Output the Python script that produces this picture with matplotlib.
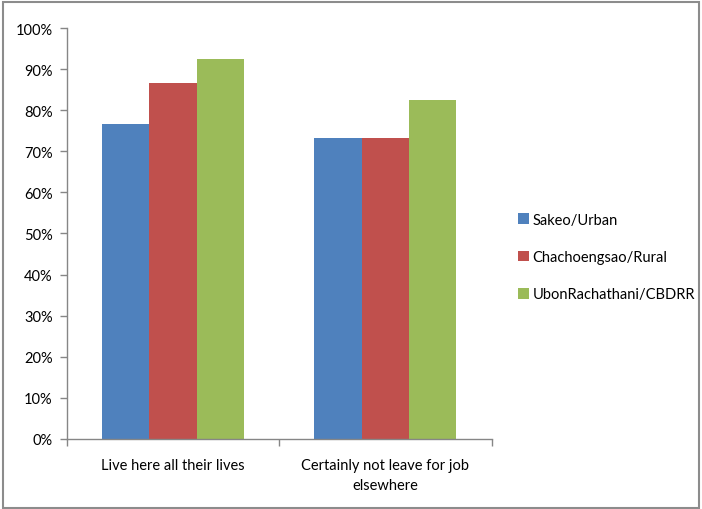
import numpy as np
import matplotlib as mpl
import matplotlib.pyplot as plt
from matplotlib.patches import Rectangle
from matplotlib.ticker import FuncFormatter, FixedLocator

mpl.rcParams.update({
    "font.family": ["Lato", "DejaVu Sans"],
    "font.size": 10.5,
})

categories = ["Live here all their lives",
              "Certainly not leave for job\nelsewhere"]
series_names = ["Sakeo/Urban", "Chachoengsao/Rural", "UbonRachathani/CBDRR"]
series_values = [
    [76.7, 73.3],
    [86.7, 73.3],
    [92.5, 82.5],
]
series_colors = ["#4F81BD", "#C0504D", "#9BBB59"]
y_ticks = list(range(0, 101, 10))

AXIS_GREY = "#868686"

fig = plt.figure(figsize=(7.02, 5.10), dpi=100)
ax = fig.add_axes([0.095, 0.1373, 0.6054, 0.8058])

x = np.arange(len(categories))
width = 0.2227
for i, (name, vals, col) in enumerate(zip(series_names, series_values,
                                           series_colors)):
    ax.bar(x + (i - 1) * width, vals, width, color=col, label=name,
           edgecolor="none", zorder=2)

ax.set_xlim(-0.5, len(categories) - 0.5)
ax.set_ylim(0, 100)
ax.set_yticks(y_ticks)
ax.yaxis.set_major_formatter(FuncFormatter(lambda v, _: f"{v:.0f}%"))

# category labels centred, boundary ticks as minor ticks
ax.set_xticks(x)
ax.set_xticklabels(categories, linespacing=1.55)
ax.xaxis.set_minor_locator(FixedLocator(np.arange(-0.5, len(categories), 1.0)))
ax.tick_params(axis="x", which="major", length=0, pad=14)
ax.tick_params(axis="x", which="minor", length=5, width=1, color=AXIS_GREY)
ax.tick_params(axis="y", length=5, width=1, color=AXIS_GREY, pad=5)

for side in ("top", "right"):
    ax.spines[side].set_visible(False)
for side in ("left", "bottom"):
    ax.spines[side].set_color(AXIS_GREY)
    ax.spines[side].set_linewidth(1)

ax.legend(loc="center left", bbox_to_anchor=(0.738, 0.494),
          bbox_transform=fig.transFigure, frameon=False,
          handlelength=0.75, handleheight=0.75, handletextpad=0.25,
          labelspacing=1.6, borderaxespad=0, borderpad=0)

# outer chart border
fig.patches.append(Rectangle((0.004, 0.002), 0.992, 0.992,
                             transform=fig.transFigure, fill=False,
                             edgecolor="#8C8C8C", linewidth=1.5))

fig.savefig("out.png", dpi=100)
